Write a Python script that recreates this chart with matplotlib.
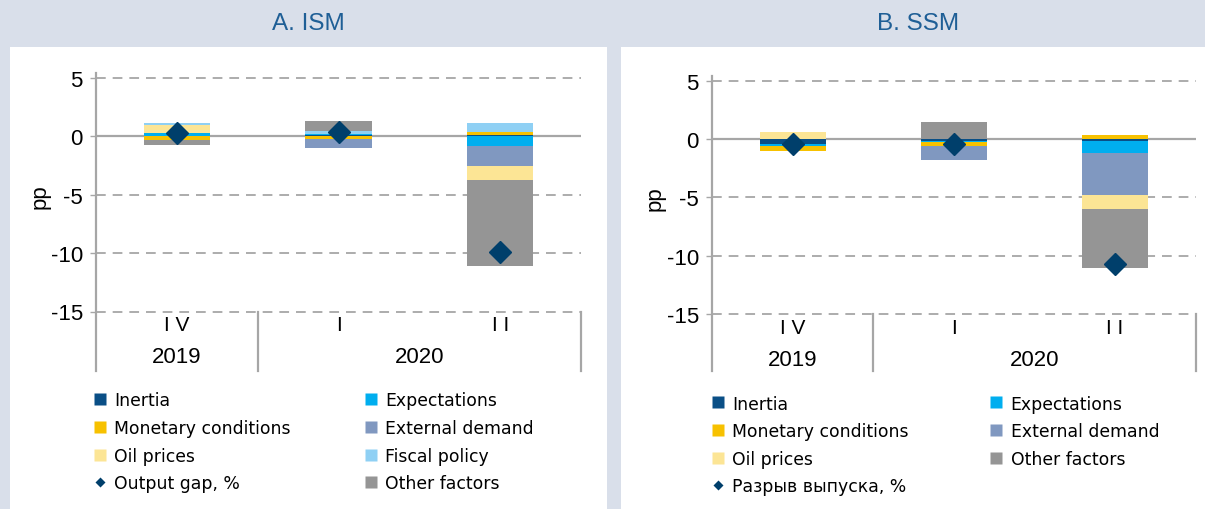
import matplotlib
matplotlib.use("Agg")
import matplotlib.pyplot as plt
from matplotlib.transforms import blended_transform_factory
from matplotlib.patches import Rectangle
from matplotlib.lines import Line2D
from matplotlib.legend import Legend

plt.rcParams["axes.unicode_minus"] = False
plt.rcParams["lines.scale_dashes"] = False

# ---- data -------------------------------------------------------------
quarters = ["I V", "I", "I I"]
years = ["2019", "2020"]
year_centres = [0, 1.5]          # category position of each year label
year_breaks = [-0.5, 0.5, 2.5]   # separators between years

# A. ISM decomposition, pp
ism_inertia = [0.05, 0.12, 0.15]
ism_expectations = [0.2, 0.05, -0.8]
ism_monetary = [-0.28, -0.22, 0.26]
ism_external = [0.0, -0.8, -1.77]
ism_oil = [0.71, 0.0, -1.17]
ism_fiscal = [0.15, 0.25, 0.77]
ism_other = [-0.45, 0.9, -7.4]
ism_gap = [0.27, 0.35, -9.94]

# B. SSM decomposition, pp
ssm_inertia = [-0.45, -0.2, -0.13]
ssm_expectations = [-0.1, -0.08, -1.03]
ssm_monetary = [-0.5, -0.3, 0.33]
ssm_external = [0.0, -1.22, -3.66]
ssm_oil = [0.64, 0.0, -1.2]
ssm_other = [0.0, 1.5, -5.03]
ssm_gap = [-0.45, -0.4, -10.74]

# ---- styling ----------------------------------------------------------
C_INERTIA = "#0a4f86"
C_EXPECT = "#00aeef"
C_MONET = "#f7c100"
C_EXTERN = "#8098c0"
C_OIL = "#fce595"
C_FISCAL = "#8fd0f4"
C_OTHER = "#959595"
C_GAP = "#003f6b"
BG = "#d9dfea"
GRID = "#a6a6a6"
TITLE_C = "#1f5f96"

TICK_FONT = "Liberation Sans"
LEG_FONT = "DejaVu Sans"

W, H = 1205, 510
fig = plt.figure(figsize=(W / 100, H / 100), dpi=100, facecolor=BG)


def fx(px):
    return px / W


def fy(py):
    return 1 - py / H


# white panels under the title bands
for x0, x1 in [(9.5, 607), (621, 1205)]:
    fig.add_artist(Rectangle((fx(x0), 0), fx(x1) - fx(x0), fy(48), transform=fig.transFigure,
                             facecolor="white", edgecolor="none", zorder=-5))


def draw_panel(rect, title, title_x, series, gap, gap_label, leg_cols, leg_top, ylab_x, cat_y, year_y):
    left, right, top, bottom = rect
    ax = fig.add_axes([fx(left), fy(bottom), fx(right) - fx(left), fy(top) - fy(bottom)])
    ax.set_facecolor("none")
    x = list(range(len(quarters)))

    pos = [0.0] * len(x)
    neg = [0.0] * len(x)
    handles = {}
    for name, vals, col in series:
        bottoms = []
        for i, v in enumerate(vals):
            if v >= 0:
                bottoms.append(pos[i])
                pos[i] += v
            else:
                bottoms.append(neg[i])
                neg[i] += v
        ax.bar(x, vals, bottom=bottoms, width=0.41, color=col, edgecolor="none", zorder=3)
        handles[name] = Line2D([], [], marker="s", markersize=8, linestyle="none",
                               markerfacecolor=col, markeredgecolor="none")
    ax.plot(x, gap, linestyle="none", marker="D", markersize=11, color=C_GAP, zorder=5)
    handles[gap_label] = Line2D([], [], marker="D", markersize=5.5, linestyle="none",
                                markerfacecolor=C_GAP, markeredgecolor="none")

    ax.set_xlim(-0.5, 2.5)
    ax.set_ylim(-15, 5.43)
    yt = [5, 0, -5, -10, -15]
    ax.set_yticks(yt)
    ax.set_yticklabels([str(v) for v in yt], fontfamily=TICK_FONT, fontsize=16)
    ax.tick_params(axis="y", direction="out", length=4.5, width=1, color=GRID, pad=5)
    ax.set_xticks([])
    for v in yt:
        if v == 0:
            ax.axhline(v, color=GRID, lw=1.6, zorder=2)
        else:
            ax.axhline(v, color=GRID, lw=1.3, dashes=(7, 5), zorder=1, clip_on=False)
    for s in ["top", "right", "bottom", "left"]:
        ax.spines[s].set_visible(False)

    # left axis and year separators running down into the category area
    tr = blended_transform_factory(ax.transData, fig.transFigure)
    for k, b in enumerate(year_breaks):
        y0 = fy(top) if k == 0 else fy(bottom)
        fig.add_artist(Line2D([b, b], [y0, fy(372)], transform=tr, color=GRID, lw=1.6))

    for xi, q in zip(x, quarters):
        fig.text(xi, fy(cat_y), q, transform=tr, ha="center", va="center",
                 fontfamily=TICK_FONT, fontsize=15)
    for xc, yr in zip(year_centres, years):
        fig.text(xc, fy(year_y), yr, transform=tr, ha="center", va="center",
                 fontfamily=TICK_FONT, fontsize=16)

    fig.text(fx(ylab_x), fy((top + bottom) / 2 + 3), "pp", rotation=90, ha="center", va="center",
             fontfamily=TICK_FONT, fontsize=16)
    fig.text(fx(title_x), fy(24), title, ha="center", va="center", color=TITLE_C,
             fontfamily=TICK_FONT, fontsize=17.5)

    # two-column legend
    for hx, labels in leg_cols:
        leg = Legend(ax, [handles[l] for l in labels], labels, loc="upper left",
                     bbox_to_anchor=(fx(hx), fy(leg_top)), bbox_transform=fig.transFigure,
                     frameon=False, borderpad=0, borderaxespad=0, handlelength=0.7,
                     handletextpad=0.5, labelspacing=0.56,
                     prop={"family": LEG_FONT, "size": 12.4})
        ax.add_artist(leg)
    return ax


ism_series = [
    ("Inertia", ism_inertia, C_INERTIA),
    ("Expectations", ism_expectations, C_EXPECT),
    ("Monetary conditions", ism_monetary, C_MONET),
    ("External demand", ism_external, C_EXTERN),
    ("Oil prices", ism_oil, C_OIL),
    ("Fiscal policy", ism_fiscal, C_FISCAL),
    ("Other factors", ism_other, C_OTHER),
]
ssm_series = [
    ("Inertia", ssm_inertia, C_INERTIA),
    ("Expectations", ssm_expectations, C_EXPECT),
    ("Monetary conditions", ssm_monetary, C_MONET),
    ("External demand", ssm_external, C_EXTERN),
    ("Oil prices", ssm_oil, C_OIL),
    ("Other factors", ssm_other, C_OTHER),
]

draw_panel((96, 581, 74, 312.5), "A. ISM", 308, ism_series, ism_gap, "Output gap, %",
           [(93.5, ["Inertia", "Monetary conditions", "Oil prices", "Output gap, %"]),
            (364.5, ["Expectations", "External demand", "Fiscal policy", "Other factors"])],
           392.5, 40, 326, 358)
draw_panel((712, 1195.7, 76.8, 315), "B. SSM", 918, ssm_series, ssm_gap, "Разрыв выпуска, %",
           [(711.5, ["Inertia", "Monetary conditions", "Oil prices", "Разрыв выпуска, %"]),
            (990, ["Expectations", "External demand", "Other factors"])],
           395.5, 655, 329, 361)

fig.savefig("out.png", dpi=100, facecolor=BG)
